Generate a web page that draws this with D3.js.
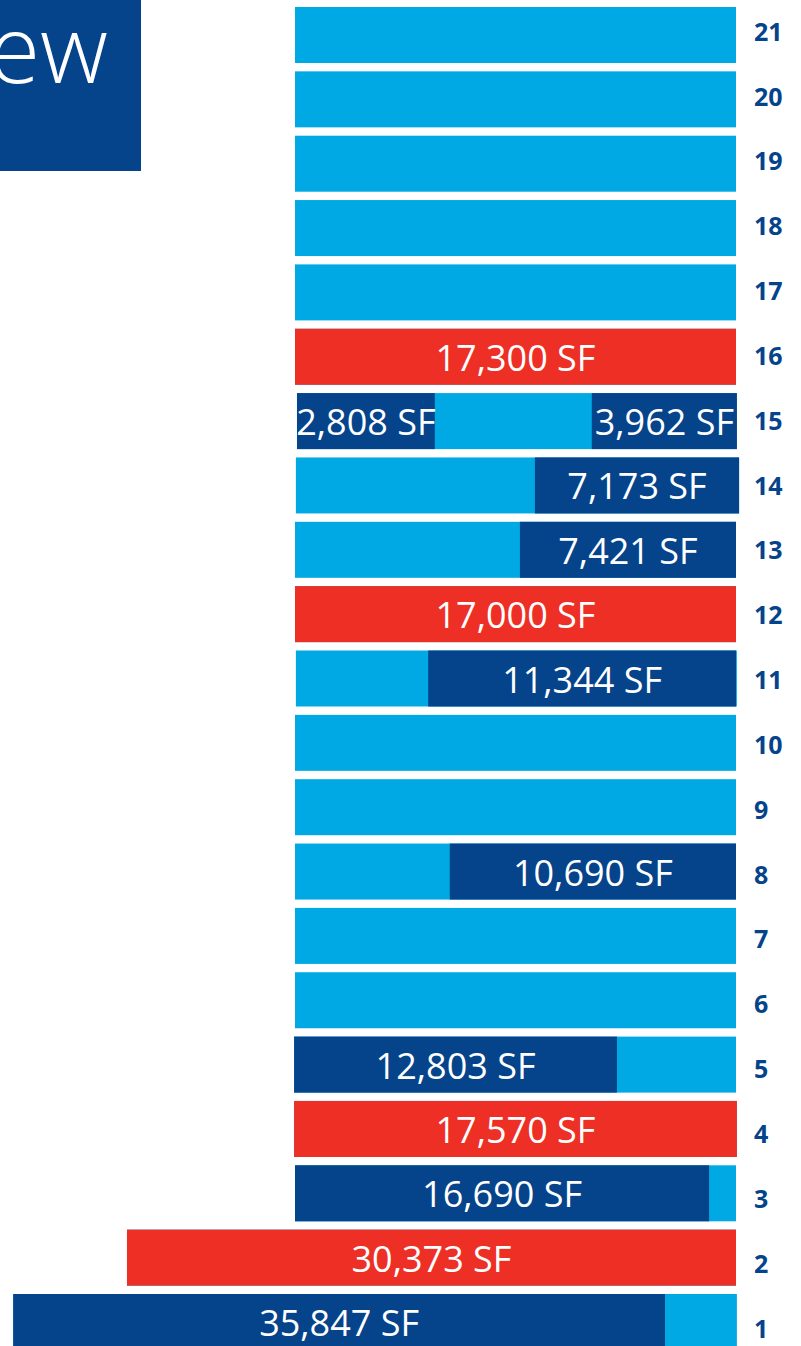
<!DOCTYPE html>
<html>
<head>
<meta charset="utf-8">
<script src="https://cdn.jsdelivr.net/npm/d3@7"></script>
<style>
  html, body { margin: 0; padding: 0; background: #fff; overflow: hidden; }
  svg { display: block; }
</style>
</head>
<body>
<svg id="chart" width="801" height="1346"></svg>
<script>
// ---- data ----
const titleText = "Overview";
const floors = [21, 20, 19, 18, 17, 16, 15, 14, 13, 12, 11, 10, 9, 8, 7, 6, 5, 4, 3, 2, 1];
// floor plate extent, in units of a typical floor plate width (0..100)
const plateStart = [0, 0, 0, 0, 0, 0, 0.45, 0.2, 0, 0, 0.2, 0, 0, 0, 0, 0, -0.2, -0.2, 0, -38.1, -63.9];
const plateEnd   = [100, 100, 100, 100, 100, 100, 100.2, 100.7, 100, 100, 100.2, 100, 100, 100, 100, 100, 100, 100.2, 100, 100, 100.2];

// highlighted spaces on each floor
const segFloor = [16, 15, 15, 14, 13, 12, 11, 8, 5, 4, 3, 2, 1];
const segStart = [0, 0.45, 67.3, 54.4, 51.0, 0, 30.2, 35.1, -0.2, -0.2, 0, -38.1, -63.9];
const segEnd   = [100, 31.7, 100.2, 100.7, 100, 100, 100, 100, 73.0, 100.2, 93.9, 100, 83.9];
const segLabel = ["17,300 SF", "2,808 SF", "3,962 SF", "7,173 SF", "7,421 SF", "17,000 SF",
                  "11,344 SF", "10,690 SF", "12,803 SF", "17,570 SF", "16,690 SF", "30,373 SF", "35,847 SF"];
const segType  = ["committed", "available", "available", "available", "available", "committed",
                  "available", "available", "available", "committed", "available", "committed", "available"];

// ---- styles ----
const colorPlate = "#00A9E3";
const colorType = { available: "#05438B", committed: "#EE2F25" };
const darkBlue = "#05438B";

const svg = d3.select("#chart");

// title block (cropped)
svg.append("rect").attr("x", 0).attr("y", 0).attr("width", 141).attr("height", 171).attr("fill", darkBlue);
svg.append("text")
  .attr("x", 108).attr("y", 83)
  .attr("text-anchor", "end")
  .attr("font-family", "'Open Sans', sans-serif")
  .attr("font-weight", 300)
  .attr("font-size", 94)
  .attr("fill", "#fff")
  .text(titleText);

// scales
const x = d3.scaleLinear().domain([0, 100]).range([295, 736]);
const y = d3.scaleBand().domain(floors).range([7, 1350]).paddingInner(8.35 / 64.35).paddingOuter(0);
const yLabel = d3.scalePoint().domain(floors).range([31.7, 1328.5]);

// plates
const plates = floors.map((f, i) => ({ floor: f, start: plateStart[i], end: plateEnd[i] }));
svg.append("g").selectAll("rect").data(plates).join("rect")
  .attr("x", d => x(d.start))
  .attr("width", d => x(d.end) - x(d.start))
  .attr("y", d => y(d.floor))
  .attr("height", y.bandwidth())
  .attr("fill", colorPlate);

// segments
const segs = segFloor.map((f, i) => ({
  floor: f, start: segStart[i], end: segEnd[i], label: segLabel[i], type: segType[i]
}));
const g = svg.append("g");
g.selectAll("rect").data(segs).join("rect")
  .attr("x", d => x(d.start))
  .attr("width", d => x(d.end) - x(d.start))
  .attr("y", d => y(d.floor))
  .attr("height", y.bandwidth())
  .attr("fill", d => colorType[d.type]);

g.selectAll("text").data(segs).join("text")
  .attr("x", d => (x(d.start) + x(d.end)) / 2)
  .attr("y", d => y(d.floor) + y.bandwidth() / 2 + 14)
  .attr("text-anchor", "middle")
  .attr("font-family", "'Open Sans', sans-serif")
  .attr("font-weight", 400)
  .attr("font-size", 36)
  .attr("fill", "#fff")
  .text(d => d.label);

// floor numbers
svg.append("g").selectAll("text").data(floors).join("text")
  .attr("x", 754)
  .attr("y", d => yLabel(d) + 9)
  .attr("font-family", "'Open Sans', sans-serif")
  .attr("font-weight", 700)
  .attr("font-size", 25)
  .attr("fill", darkBlue)
  .text(d => d);
</script>
</body>
</html>
